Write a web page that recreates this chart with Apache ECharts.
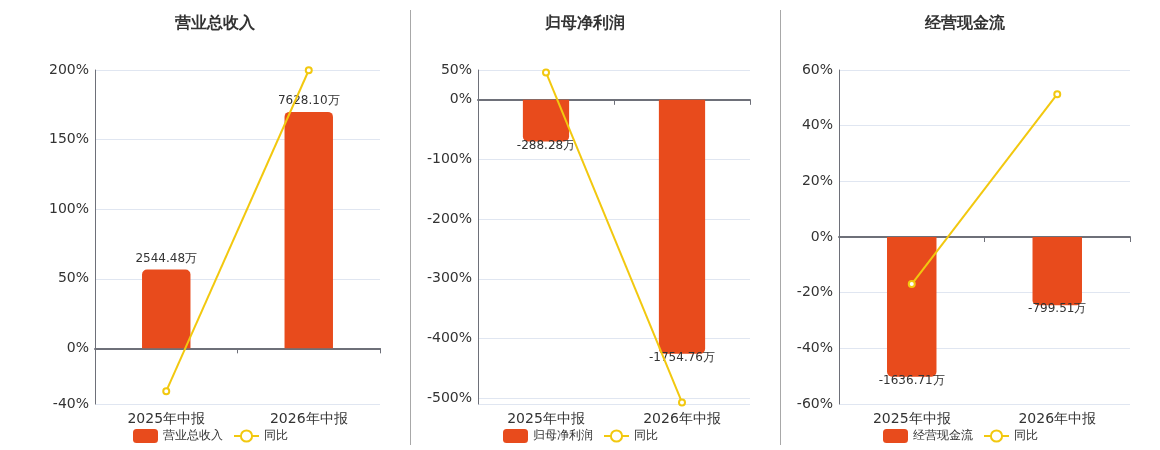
<!DOCTYPE html>
<html>
<head>
<meta charset="utf-8">
<script src="https://cdn.jsdelivr.net/npm/echarts@6/dist/echarts.min.js"></script>
<style>
html,body{margin:0;padding:0;background:#fff;}
#c{width:1160px;height:450px;}
</style>
</head>
<body>
<div id="c"></div>
<script>
// ---- data ----
const categories = ['2025年中报', '2026年中报'];
const titles = ['营业总收入', '归母净利润', '经营现金流'];
const revenueValues = [2544.48, 7628.10];
const revenueYoY = [-30.8, 199.8];
const profitValues = [-288.28, -1754.76];
const profitYoY = [46, -507.4];
const cashValues = [-1636.71, -799.51];
const cashYoY = [-16.9, 51.3];
// percent axis extents (tick labels come out as value + '%')
const pctMin = [-40, -510, -60];
const pctMax = [200, 50, 60];
// hidden bar axis scale (万 per percent point), aligns bar zero with 0%
const barScale = [44.9, 4.12, 32.6];

const barValues = [revenueValues, profitValues, cashValues];
const yoyValues = [revenueYoY, profitYoY, cashYoY];

const BAR = '#E84B1C';
const LINE = '#F2C80F';
const grids = [
  {left: 95, right: 780, top: 70, bottom: 46},
  {left: 478, right: 410, top: 70, bottom: 46},
  {left: 839, right: 30, top: 70, bottom: 46}
];
const titleX = [210, 580, 960];
const legendX = [128, 498, 878];

const option = {
  animation: false,
  textStyle: {fontFamily: 'DejaVu Sans'},
  title: titles.map((t, i) => ({
    text: t, left: titleX[i], top: 11, textAlign: 'center',
    textStyle: {fontSize: 16, fontWeight: 'bold', color: '#333'}
  })),
  legend: titles.map((t, i) => ({
    data: [t, '同比'], left: legendX[i], top: 424,
    itemWidth: 25, itemHeight: 14, itemGap: 10,
    textStyle: {fontSize: 12, color: '#333'}
  })),
  grid: grids,
  xAxis: grids.map((g, i) => ({
    type: 'category', gridIndex: i, data: categories,
    axisLine: {onZero: true, lineStyle: {color: '#6E7079', width: 2}},
    axisTick: {show: true, lineStyle: {color: '#6E7079'}},
    axisLabel: {fontSize: 14, color: '#333'}
  })),
  yAxis: [].concat(...grids.map((g, i) => [
    {
      type: 'value', gridIndex: i, min: pctMin[i], max: pctMax[i],
      axisLine: {show: true, lineStyle: {color: '#6E7079'}},
      axisTick: {show: false},
      axisLabel: {fontSize: 14, color: '#333', margin: 6, formatter: '{value}%'},
      splitLine: {lineStyle: {color: '#E0E6F1'}}
    },
    {
      type: 'value', gridIndex: i, show: false,
      min: pctMin[i] * barScale[i], max: pctMax[i] * barScale[i],
      splitLine: {show: false}
    }
  ])),
  series: [].concat(...titles.map((t, i) => [
    {
      name: t, type: 'bar', xAxisIndex: i, yAxisIndex: i * 2 + 1,
      barWidth: '34%',
      itemStyle: {color: BAR},
      data: barValues[i].map(v => ({
        value: v,
        itemStyle: {borderRadius: v >= 0 ? [5, 5, 0, 0] : [0, 0, 5, 5]},
        label: {
          show: true, position: v >= 0 ? 'top' : 'bottom',
          distance: v >= 0 ? 5 : -2,
          color: '#333', fontSize: 12,
          formatter: p => p.value.toFixed(2) + '万'
        }
      }))
    },
    {
      name: '同比', type: 'line', xAxisIndex: i, yAxisIndex: i * 2,
      symbol: 'emptyCircle', symbolSize: 6,
      lineStyle: {color: LINE, width: 2},
      itemStyle: {color: LINE},
      data: yoyValues[i]
    }
  ])),
  graphic: [
    {type: 'line', shape: {x1: 410.5, y1: 10, x2: 410.5, y2: 445}, style: {stroke: '#A8A8A8', lineWidth: 1}},
    {type: 'line', shape: {x1: 780.5, y1: 10, x2: 780.5, y2: 445}, style: {stroke: '#A8A8A8', lineWidth: 1}}
  ]
};
echarts.init(document.getElementById('c')).setOption(option);
</script>
</body>
</html>
